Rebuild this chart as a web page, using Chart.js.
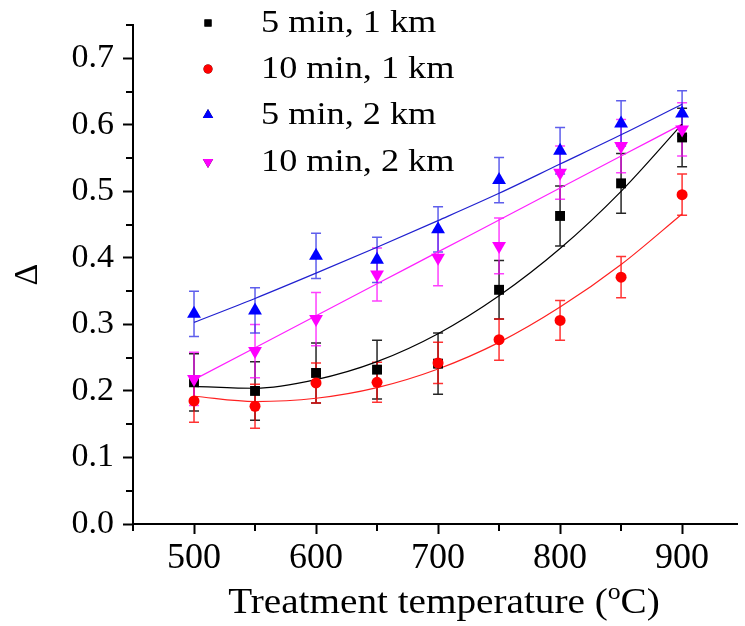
<!DOCTYPE html>
<html><head><meta charset="utf-8">
<script src="https://cdn.jsdelivr.net/npm/chart.js@4"></script>
<style>html,body{margin:0;padding:0;background:#fff;} #wrap{width:745px;height:626px;position:relative;}</style>
</head><body><div id="wrap"><canvas id="c" width="745" height="626"></canvas></div>
<script>
// ---- data ----
const temperatures = [500, 550, 600, 650, 700, 750, 800, 850, 900];
const seriesLabels = ['5 min, 1 km', '10 min, 1 km', '5 min, 2 km', '10 min, 2 km'];

const delta5min1km  = [0.213, 0.200, 0.227, 0.232, 0.241, 0.352, 0.463, 0.512, 0.581];
const err5min1km    = [0.043, 0.044, 0.045, 0.044, 0.046, 0.044, 0.045, 0.045, 0.044];
const fit5min1km    = [0.207, 0.204, 0.217, 0.244, 0.286, 0.343, 0.414, 0.500, 0.601];

const delta10min1km = [0.185, 0.177, 0.212, 0.213, 0.242, 0.277, 0.306, 0.371, 0.495];
const err10min1km   = [0.032, 0.033, 0.030, 0.030, 0.031, 0.031, 0.030, 0.031, 0.031];
const fit10min1km   = [0.192, 0.184, 0.189, 0.205, 0.233, 0.273, 0.326, 0.390, 0.466];

const delta5min2km  = [0.316, 0.321, 0.403, 0.397, 0.443, 0.517, 0.561, 0.602, 0.617];
const err5min2km    = [0.034, 0.034, 0.034, 0.034, 0.034, 0.034, 0.035, 0.034, 0.034];
const fit5min2km    = [0.303, 0.339, 0.377, 0.416, 0.456, 0.497, 0.541, 0.585, 0.631];

const delta10min2km = [0.218, 0.260, 0.308, 0.375, 0.400, 0.418, 0.528, 0.568, 0.593];
const err10min2km   = [0.040, 0.040, 0.040, 0.040, 0.042, 0.042, 0.040, 0.040, 0.040];
const fit10min2km   = [0.217, 0.265, 0.313, 0.361, 0.409, 0.457, 0.505, 0.553, 0.601];

const xTickValues = [500, 600, 700, 800, 900];
const yTickValues = [0.0, 0.1, 0.2, 0.3, 0.4, 0.5, 0.6, 0.7];
const xTitle = ['Treatment temperature (', 'o', 'C)'];
const yTitle = 'Δ';

// ---- styling ----
const FONT = '"Liberation Serif","Times New Roman",serif';
const styles = [
  {color:'#000000', errColor:'rgba(0,0,0,0.85)', fitColor:'#000000', pointStyle:'rect', radius:7, rotation:0, legR:5, order:4},
  {color:'#ff0000', errColor:'rgba(255,0,0,0.8)', fitColor:'#ff2020', pointStyle:'circle', radius:5.5, rotation:0, legR:4.5, order:3},
  {color:'#0000ff', errColor:'rgba(40,40,230,0.75)', fitColor:'#2020d0', pointStyle:'triangle', radius:8, rotation:0, legR:6, order:1},
  {color:'#ff00ff', errColor:'rgba(255,0,255,0.75)', fitColor:'#ff20ff', pointStyle:'triangle', radius:8, rotation:180, legR:6, order:2}
];
const values = [delta5min1km, delta10min1km, delta5min2km, delta10min2km];
const errors = [err5min1km, err10min1km, err5min2km, err10min2km];
const fits = [fit5min1km, fit10min1km, fit5min2km, fit10min2km];

function pts(ys){ return temperatures.map((t,i)=>({x:t, y:ys[i]})); }

const datasets = [];
values.forEach((v,k)=>{
  const s = styles[k];
  datasets.push({label: seriesLabels[k], data: pts(v), showLine:false,
    pointStyle: s.pointStyle, pointRotation: s.rotation, pointRadius: s.radius,
    pointBackgroundColor: s.color, pointBorderColor: s.color, pointBorderWidth: 0,
    order: s.order});
});
fits.forEach((f,k)=>{
  const s = styles[k];
  datasets.push({label: seriesLabels[k] + ' fit', data: pts(f), showLine:true,
    borderColor: s.fitColor, borderWidth: 1.2, pointRadius: 0, cubicInterpolationMode:'monotone',
    fill:false, order: 10 + k});
});

const errorBars = {
  id:'errorBars',
  beforeDatasetsDraw(chart){
    const {ctx, scales:{x, y}} = chart;
    [0,1,3,2].forEach((k)=>{
      const v = values[k];
      ctx.save();
      ctx.strokeStyle = styles[k].errColor;
      ctx.lineWidth = 1.5;
      temperatures.forEach((t,i)=>{
        const px = x.getPixelForValue(t);
        const top = y.getPixelForValue(v[i] + errors[k][i]);
        const bot = y.getPixelForValue(v[i] - errors[k][i]);
        ctx.beginPath();
        ctx.moveTo(px, top); ctx.lineTo(px, bot);
        ctx.moveTo(px-5, top); ctx.lineTo(px+5, top);
        ctx.moveTo(px-5, bot); ctx.lineTo(px+5, bot);
        ctx.stroke();
      });
      ctx.restore();
    });
  }
};

function stretchedText(ctx, text, x, y, sx){
  ctx.save(); ctx.translate(x, y); ctx.scale(sx, 1); ctx.fillText(text, 0, 0); ctx.restore();
}

const extras = {
  id:'extras',
  afterDraw(chart){
    const {ctx, scales:{x, y}, chartArea} = chart;
    ctx.save();
    // minor ticks
    ctx.strokeStyle = '#000'; ctx.lineWidth = 2;
    ctx.beginPath();
    for (let t = 450; t < 900; t += 100) {
      const px = Math.round(x.getPixelForValue(t));
      ctx.moveTo(px, chartArea.bottom); ctx.lineTo(px, chartArea.bottom + 7);
    }
    for (let k = 5; k <= 75; k += 10) {
      const py = Math.round(y.getPixelForValue(k/100));
      ctx.moveTo(chartArea.left, py); ctx.lineTo(chartArea.left - 7, py);
    }
    ctx.stroke();
    // x title with superscript
    ctx.fillStyle = '#000';
    ctx.textBaseline = 'alphabetic';
    const sx = 1.12;
    const big = '35px ' + FONT, small = '23px ' + FONT;
    ctx.font = big; const w1 = ctx.measureText(xTitle[0]).width*sx; const w3 = ctx.measureText(xTitle[2]).width*sx;
    ctx.font = small; const w2 = ctx.measureText(xTitle[1]).width*sx;
    let cx = (chartArea.left + chartArea.right)/2 + 9 - (w1+w2+w3)/2;
    const base = 613;
    ctx.font = big; stretchedText(ctx, xTitle[0], cx, base, sx); cx += w1;
    ctx.font = small; stretchedText(ctx, xTitle[1], cx, base - 14, sx); cx += w2;
    ctx.font = big; stretchedText(ctx, xTitle[2], cx, base, sx);
    // legend
    const rows = [23, 69, 115, 162];
    ctx.font = '31px ' + FONT;
    ctx.textBaseline = 'middle';
    seriesLabels.forEach((lab,k)=>{
      const s = styles[k];
      Chart.helpers.drawPoint(ctx, {pointStyle: s.pointStyle, radius: s.legR, rotation: s.rotation, borderWidth: 0}, 208, rows[k]);
      ctx.fillStyle = s.color; ctx.fill();
      ctx.fillStyle = '#000';
      stretchedText(ctx, lab, 261, rows[k] + 1, 1.17);
    });
    ctx.restore();
  }
};

new Chart(document.getElementById('c'), {
  type:'scatter',
  data:{datasets},
  options:{
    responsive:false, animation:false, devicePixelRatio:1,
    layout:{padding:{top:25, right:0, left:0, bottom:0}},
    plugins:{legend:{display:false}, tooltip:{enabled:false}},
    scales:{
      x:{type:'linear', min:450, max:945,
        ticks:{stepSize:50, includeBounds:false, autoSkip:false, maxRotation:0, color:'#000',
          font:{family:FONT, size:36}, padding:3,
          callback:(v)=> xTickValues.includes(v) ? String(v) : ''},
        grid:{display:true, drawOnChartArea:false, drawTicks:true, tickLength:10, tickWidth:2,
          tickColor:(c)=> xTickValues.includes(c.tick && c.tick.value) ? '#000' : 'rgba(0,0,0,0)'},
        border:{display:true, color:'#000', width:2},
        afterFit:(s)=>{ s.height = 102; s.paddingLeft = 0; s.paddingRight = 0; s.paddingTop = 0; s.paddingBottom = 0; }
      },
      y:{type:'linear', min:0, max:0.75,
        ticks:{stepSize:0.05, autoSkip:false, color:'#000', font:{family:FONT, size:34}, padding:9,
          callback:(v)=>{ const k = Math.round(v*100); return k % 10 === 0 ? (k/100).toFixed(1) : ''; }},
        grid:{display:true, drawOnChartArea:false, drawTicks:true, tickLength:10, tickWidth:2,
          tickColor:(c)=>{ const k = Math.round(((c.tick && c.tick.value) || 0)*100); return k % 10 === 0 ? '#000' : 'rgba(0,0,0,0)'; }},
        border:{display:true, color:'#000', width:2},
        title:{display:true, text:yTitle, color:'#000', font:{family:FONT, size:34}, padding:{top:8, bottom:0}},
        afterFit:(s)=>{ s.width = 133; s.paddingTop = 0; s.paddingBottom = 0; s.paddingLeft = 0; s.paddingRight = 0; }
      }
    }
  },
  plugins:[errorBars, extras]
});
</script>
</body></html>
